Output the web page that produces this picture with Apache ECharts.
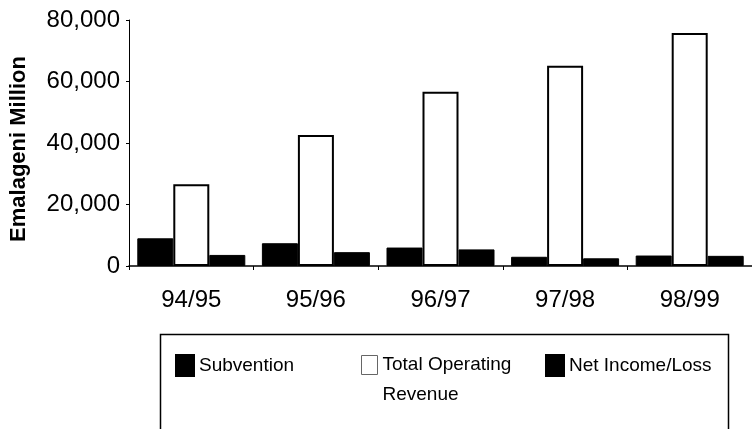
<!DOCTYPE html>
<html>
<head>
<meta charset="utf-8">
<script src="https://cdn.jsdelivr.net/npm/echarts@6/dist/echarts.min.js"></script>
<style>
html,body{margin:0;padding:0;background:#fff;}
#myChart{width:752px;height:429px;}
</style>
</head>
<body>
<div id="myChart"></div>
<script type="text/javascript">
// chart data
var years = ['94/95', '95/96', '96/97', '97/98', '98/99'];
var subvention = [9000, 7400, 6000, 3000, 3400];
var totalRevenue = [26600, 42600, 56700, 65100, 75800];
var netIncome = [3600, 4500, 5400, 2500, 3300];
var yTicks = [0, 20000, 40000, 60000, 80000];

var font = 'Liberation Sans, Arial, sans-serif';

function fmt(v)
{
	return String(v).replace(/\B(?=(\d{3})+(?!\d))/g, ',');
}

var legendText = {fontFamily:font, fontSize:19, lineHeight:22, color:'#000'};

var option = {
	animation:false,
	backgroundColor:'#fff',
	grid:{left:129, right:-2, top:20, bottom:163},
	xAxis:
	{
		type:'category',
		data:years,
		axisLine:{lineStyle:{color:'#000', width:1.5}},
		axisTick:{show:true, length:4, lineStyle:{color:'#000'}},
		axisLabel:{fontFamily:font, fontSize:24, color:'#000', margin:22}
	},
	yAxis:
	{
		type:'value',
		min:yTicks[0],
		max:yTicks[yTicks.length - 1],
		interval:yTicks[1] - yTicks[0],
		name:'Emalageni Million',
		nameLocation:'middle',
		nameRotate:90,
		nameGap:99,
		nameTextStyle:{fontFamily:font, fontSize:22, fontWeight:'bold', color:'#000', padding:[0,12,0,0]},
		axisLine:{show:true, lineStyle:{color:'#000', width:1}},
		axisTick:{show:true, length:3, lineStyle:{color:'#000'}},
		splitLine:{show:false},
		axisLabel:{fontFamily:font, fontSize:24, color:'#000', margin:9, formatter:fmt}
	},
	legend:
	[
		{data:['Subvention'], icon:'rect', left:175, top:354, padding:0, itemWidth:18, itemHeight:21, textStyle:legendText},
		{data:['Total Operating Revenue'], icon:'rect', left:361, top:320, padding:0, itemWidth:16, itemHeight:19,
			// blank first line keeps the icon level with "Total Operating"
			formatter:function(){ return '\u00a0\nTotal Operating\nRevenue'; },
			textStyle:{fontFamily:font, fontSize:19, lineHeight:30, color:'#000'},
			itemStyle:{borderColor:'#666', borderWidth:1}},
		{data:['Net Income/Loss'], icon:'rect', left:545, top:354, padding:0, itemWidth:18, itemHeight:21, textStyle:legendText}
	],
	graphic:
	[
		{type:'rect', left:158, top:332, shape:{width:568, height:120}, style:{fill:'none', stroke:'#000', lineWidth:1.5}}
	],
	series:
	[
		{name:'Subvention', type:'bar', data:subvention, barWidth:36, barGap:'0%',
			itemStyle:{color:'#000', borderColor:'#000', borderWidth:1}},
		{name:'Total Operating Revenue', type:'bar', data:totalRevenue, barWidth:36, barGap:'0%',
			itemStyle:{color:'#fff', borderColor:'#000', borderWidth:2}},
		{name:'Net Income/Loss', type:'bar', data:netIncome, barWidth:36, barGap:'0%',
			itemStyle:{color:'#000', borderColor:'#000', borderWidth:1}}
	]
};
echarts.init(document.getElementById('myChart')).setOption(option);
</script>
</body>
</html>
